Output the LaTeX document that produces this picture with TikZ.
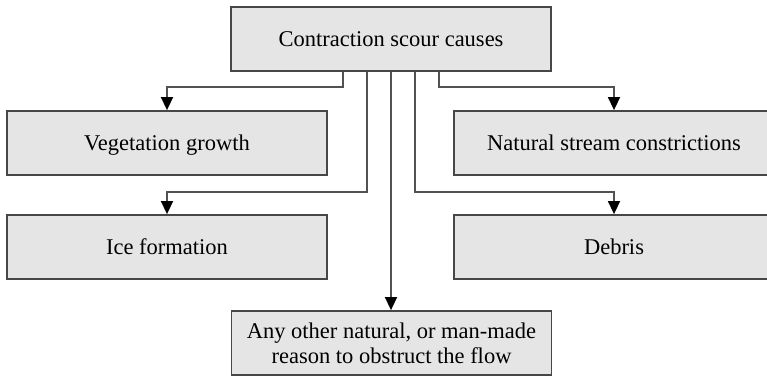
\documentclass[tikz,border=0pt]{standalone}
\usepackage{fontspec}
\setmainfont{Liberation Serif}
\usetikzlibrary{arrows.meta}
\begin{document}
\begin{tikzpicture}[x=1pt,y=-1pt,
  cause/.style={draw=black!72, line width=1.8pt, fill=black!10,
    minimum width=320pt, minimum height=64pt, inner sep=0pt,
    align=center, font=\fontsize{22.5}{25}\selectfont},
  single/.style={cause, text height=17pt, text depth=3pt},
  conn/.style={draw=black!68, line width=1.5pt,
    -{Triangle[length=13pt,width=12pt,color=black]}}]
  \useasboundingbox (0,0) rectangle (767,376);
  \clip (0,0) rectangle (767,376);
  % boxes
  \node[single] (top)   at (391,39)  {Contraction scour causes};
  \node[single] (veg)   at (167,143) {Vegetation growth};
  \node[single] (ice)   at (167,247) {Ice formation};
  \node[single] (nat)   at (614,143) {Natural stream constrictions};
  \node[single] (deb)   at (614,247) {Debris};
  \node[cause]  (other) at (391.5,343) {Any other natural, or man-made\\reason to obstruct the flow};
  % branches leaving the top box
  \draw[conn] ([xshift=-48pt]top.south) -- ++(0,15) -| (veg.north);
  \draw[conn] ([xshift=48pt]top.south)  -- ++(0,15) -| (nat.north);
  \draw[conn] ([xshift=-24pt]top.south) -- ++(0,120) -| (ice.north);
  \draw[conn] ([xshift=24pt]top.south)  -- ++(0,120) -| (deb.north);
  \draw[conn] (top.south) -- (top.south |- other.north);
\end{tikzpicture}
\end{document}
